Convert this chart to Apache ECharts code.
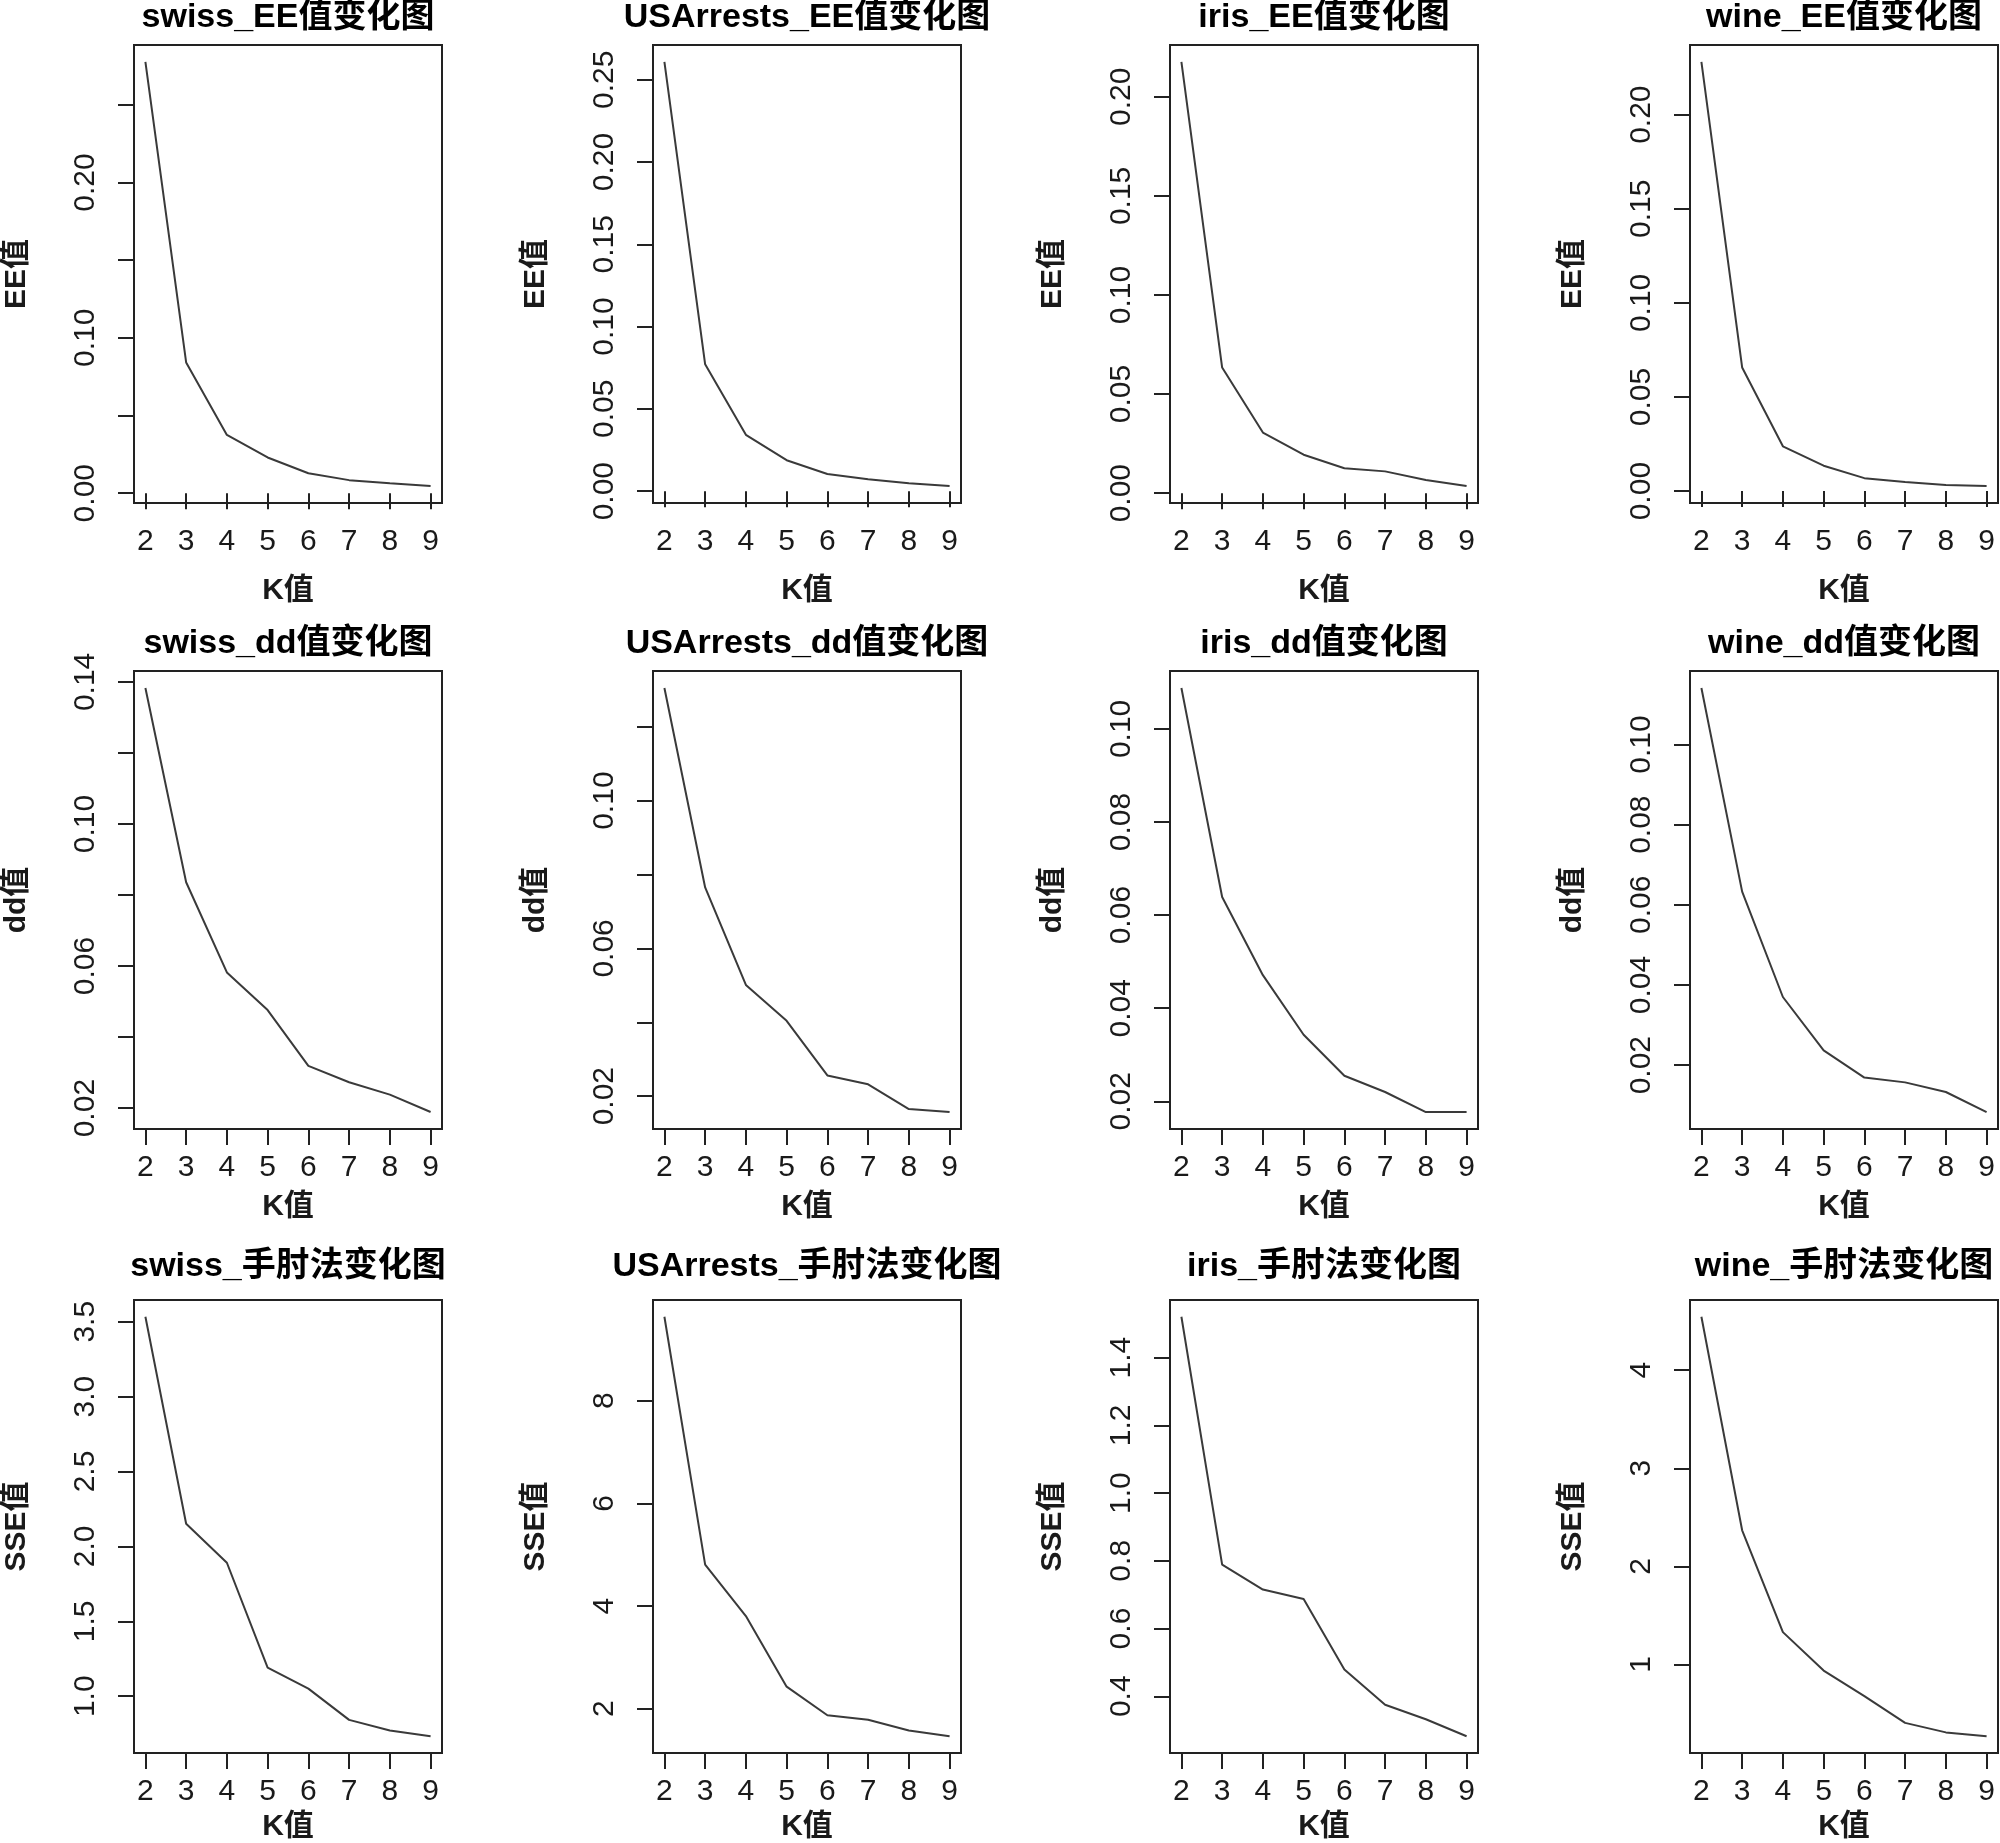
<!DOCTYPE html>
<html>
<head>
<meta charset="utf-8">
<script src="https://cdn.jsdelivr.net/npm/echarts@6/dist/echarts.min.js"></script>
<style>
  html, body { margin: 0; padding: 0; background: #fff; }
  #chart { width: 2000px; height: 1843px; }
</style>
</head>
<body>
<div id="chart"></div>
<script>
const kValues = [2, 3, 4, 5, 6, 7, 8, 9];
const datasetNames = ['swiss', 'USArrests', 'iris', 'wine'];

// EE values
const swissEE = [0.2776, 0.0842, 0.0375, 0.0230, 0.0128, 0.0084, 0.0064, 0.0046];
const usArrestsEE = [0.2608, 0.0771, 0.0342, 0.0188, 0.0104, 0.0072, 0.0048, 0.0031];
const irisEE = [0.2176, 0.0634, 0.0306, 0.0194, 0.0126, 0.0110, 0.0066, 0.0036];
const wineEE = [0.2280, 0.0657, 0.0238, 0.0135, 0.0069, 0.0048, 0.0032, 0.0027];

// dd values
const swissDD = [0.1383, 0.0836, 0.0582, 0.0476, 0.0319, 0.0273, 0.0238, 0.0189];
const usArrestsDD = [0.1305, 0.0765, 0.0501, 0.0404, 0.0256, 0.0232, 0.0165, 0.0157];
const irisDD = [0.1088, 0.0639, 0.0471, 0.0343, 0.0255, 0.0220, 0.0177, 0.0177];
const wineDD = [0.1141, 0.0633, 0.0370, 0.0237, 0.0169, 0.0157, 0.0133, 0.0083];

// SSE (elbow) values
const swissSSE = [3.533, 2.151, 1.891, 1.191, 1.051, 0.842, 0.771, 0.733];
const usArrestsSSE = [9.635, 4.807, 3.805, 2.431, 1.874, 1.785, 1.577, 1.465];
const irisSSE = [1.5205, 0.7885, 0.715, 0.687, 0.479, 0.375, 0.332, 0.282];
const wineSSE = [4.544, 2.368, 1.330, 0.938, 0.677, 0.405, 0.308, 0.269];

// y tick positions and the labels R kept
const eeTicks5 = [0, 0.05, 0.10, 0.15, 0.20, 0.25];
const swissEELabels = [0, 0.10, 0.20];
const ddTicks = [0.02, 0.04, 0.06, 0.08, 0.10, 0.12, 0.14];
const sparseDDLabels = [0.02, 0.06, 0.10, 0.14];
const swissSSETicks = [1.0, 1.5, 2.0, 2.5, 3.0, 3.5];
const usArrestsSSETicks = [2, 4, 6, 8];
const irisSSETicks = [0.4, 0.6, 0.8, 1.0, 1.2, 1.4];
const wineSSETicks = [1, 2, 3, 4];

const panels = [
  { title: 'swiss_EE值变化图', yName: 'EE值', values: swissEE, ticks: eeTicks5, labels: swissEELabels, dec: 2 },
  { title: 'USArrests_EE值变化图', yName: 'EE值', values: usArrestsEE, ticks: eeTicks5, labels: eeTicks5, dec: 2 },
  { title: 'iris_EE值变化图', yName: 'EE值', values: irisEE, ticks: eeTicks5, labels: eeTicks5, dec: 2 },
  { title: 'wine_EE值变化图', yName: 'EE值', values: wineEE, ticks: eeTicks5, labels: eeTicks5, dec: 2 },
  { title: 'swiss_dd值变化图', yName: 'dd值', values: swissDD, ticks: ddTicks, labels: sparseDDLabels, dec: 2 },
  { title: 'USArrests_dd值变化图', yName: 'dd值', values: usArrestsDD, ticks: ddTicks, labels: sparseDDLabels, dec: 2 },
  { title: 'iris_dd值变化图', yName: 'dd值', values: irisDD, ticks: ddTicks, labels: ddTicks, dec: 2 },
  { title: 'wine_dd值变化图', yName: 'dd值', values: wineDD, ticks: ddTicks, labels: ddTicks, dec: 2 },
  { title: 'swiss_手肘法变化图', yName: 'SSE值', values: swissSSE, ticks: swissSSETicks, labels: swissSSETicks, dec: 1 },
  { title: 'USArrests_手肘法变化图', yName: 'SSE值', values: usArrestsSSE, ticks: usArrestsSSETicks, labels: usArrestsSSETicks, dec: 0 },
  { title: 'iris_手肘法变化图', yName: 'SSE值', values: irisSSE, ticks: irisSSETicks, labels: irisSSETicks, dec: 1 },
  { title: 'wine_手肘法变化图', yName: 'SSE值', values: wineSSE, ticks: wineSSETicks, labels: wineSSETicks, dec: 0 }
];

const colLeft = [134, 653, 1170, 1690];
const boxWidth = 308;
const rowTop = [45, 671, 1300];
const boxHeight = [458, 458, 464];
const titleCenterY = [18, 644, 1267];
const xNameGap = [73, 63, 59];

const fontFamily = '"Liberation Sans", Arial, "Noto Sans CJK SC", sans-serif';
const ink = '#1a1a1a';

// R style: pad the data range by 4% on each side
function padRange(vals) {
  const lo = Math.min(...vals), hi = Math.max(...vals);
  const r = hi - lo;
  return [lo - 0.04 * r, hi + 0.04 * r];
}

const grid = [], xAxis = [], yAxis = [], series = [], title = [];

panels.forEach((p, i) => {
  const row = Math.floor(i / 4), col = i % 4;
  const [ymin, ymax] = padRange(p.values);
  const [xmin, xmax] = padRange(kValues);

  grid.push({
    left: colLeft[col], top: rowTop[row], width: boxWidth, height: boxHeight[row],
    show: true, borderColor: '#222', borderWidth: 2, backgroundColor: 'transparent'
  });

  title.push({
    text: p.title,
    left: colLeft[col] + boxWidth / 2,
    top: titleCenterY[row],
    textAlign: 'center',
    textVerticalAlign: 'middle',
    padding: 0,
    textStyle: { fontSize: 34, fontWeight: 'bold', color: '#000', fontFamily }
  });

  xAxis.push({
    gridIndex: i, type: 'value', min: xmin, max: xmax,
    axisLine: { show: false },
    splitLine: { show: false },
    axisTick: { show: true, length: 16, customValues: kValues, lineStyle: { color: '#222', width: 2 } },
    axisLabel: { customValues: kValues, margin: 24, fontSize: 30, color: ink, fontFamily },
    name: 'K值', nameLocation: 'middle', nameGap: xNameGap[row],
    nameTextStyle: { fontSize: 30, fontWeight: 'bold', color: ink, fontFamily }
  });

  yAxis.push({
    gridIndex: i, type: 'value', min: ymin, max: ymax,
    axisLine: { show: false },
    splitLine: { show: false },
    axisTick: { show: true, length: 16, customValues: p.ticks, lineStyle: { color: '#222', width: 2 } },
    axisLabel: {
      customValues: p.labels, rotate: 90, margin: 33, fontSize: 30, color: ink, fontFamily,
      formatter: v => Number(v).toFixed(p.dec)
    },
    name: p.yName, nameLocation: 'middle', nameGap: 102,
    nameTextStyle: { fontSize: 30, fontWeight: 'bold', color: ink, fontFamily }
  });

  series.push({
    type: 'line', xAxisIndex: i, yAxisIndex: i,
    data: kValues.map((k, j) => [k, p.values[j]]),
    showSymbol: false, silent: true,
    lineStyle: { color: '#3a3a3a', width: 2 }
  });
});

const chart = echarts.init(document.getElementById('chart'));
chart.setOption({
  animation: false,
  backgroundColor: '#fff',
  title, grid, xAxis, yAxis, series
});
</script>
</body>
</html>
